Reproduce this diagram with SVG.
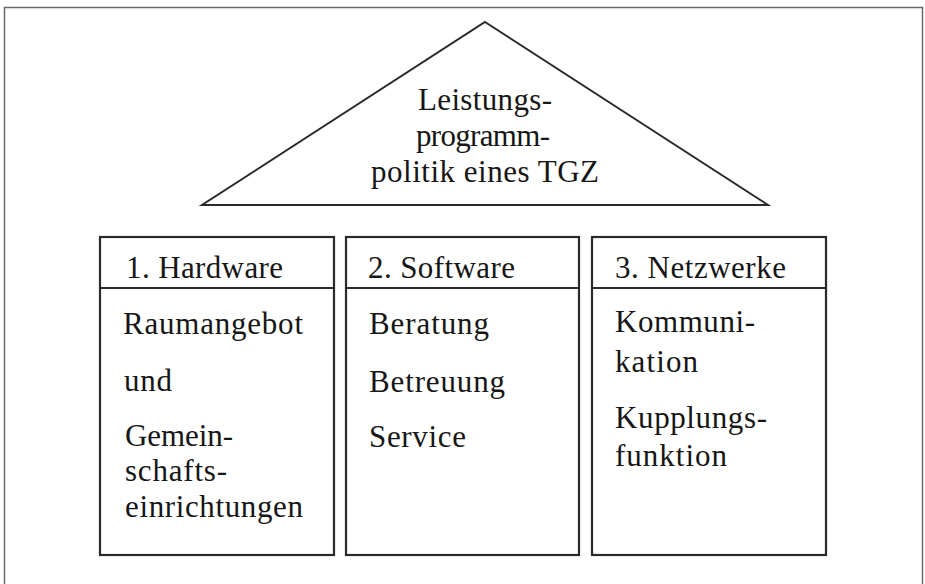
<svg xmlns="http://www.w3.org/2000/svg" width="925" height="584" viewBox="0 0 925 584">
<style>
.frame{fill:none;stroke:#6a6a6a;stroke-width:1.5}
.roof{fill:#fff;stroke:#2a2a2a;stroke-width:2}
.box{fill:#fff;stroke:#2a2a2a;stroke-width:2.2}
.div{stroke:#2a2a2a;stroke-width:2}
text{font-family:'Liberation Serif','DejaVu Serif',serif;font-size:31px;fill:#161616}
.c{text-anchor:middle}
</style>
<rect x="0" y="0" width="925" height="584" fill="#fff"/>
<path class="frame" d="M4.5,600 V7.5 H922.5 V600"/>
<g id="roof">
<polygon class="roof" points="485,22 768,205 202,205"/>
<text class="c" x="485" y="110" textLength="134" lengthAdjust="spacing">Leistungs-</text>
<text class="c" x="483" y="146" textLength="134" lengthAdjust="spacing">programm-</text>
<text class="c" x="485" y="182" textLength="228" lengthAdjust="spacing">politik eines TGZ</text>
</g>
<g id="hardware">
<rect class="box" x="100" y="237" width="234" height="318"/>
<line class="div" x1="100" y1="288" x2="334" y2="288"/>
<text x="126" y="278" textLength="157" lengthAdjust="spacing">1. Hardware</text>
<text x="123" y="334" textLength="180" lengthAdjust="spacing">Raumangebot</text>
<text x="124" y="391" textLength="48" lengthAdjust="spacing">und</text>
<text x="125" y="446" textLength="108" lengthAdjust="spacing">Gemein-</text>
<text x="125" y="481" textLength="102" lengthAdjust="spacing">schafts-</text>
<text x="125" y="517" textLength="178" lengthAdjust="spacing">einrichtungen</text>
</g>
<g id="software">
<rect class="box" x="346" y="237" width="233" height="318"/>
<line class="div" x1="346" y1="288" x2="579" y2="288"/>
<text x="368" y="278" textLength="147" lengthAdjust="spacing">2. Software</text>
<text x="369" y="334" textLength="120" lengthAdjust="spacing">Beratung</text>
<text x="369" y="392" textLength="136" lengthAdjust="spacing">Betreuung</text>
<text x="369" y="447" textLength="97" lengthAdjust="spacing">Service</text>
</g>
<g id="netzwerke">
<rect class="box" x="592" y="237" width="234" height="318"/>
<line class="div" x1="592" y1="288" x2="826" y2="288"/>
<text x="615" y="278" textLength="171" lengthAdjust="spacing">3. Netzwerke</text>
<text x="615" y="332" textLength="140" lengthAdjust="spacing">Kommuni-</text>
<text x="615" y="372" textLength="83" lengthAdjust="spacing">kation</text>
<text x="615" y="428" textLength="152" lengthAdjust="spacing">Kupplungs-</text>
<text x="615" y="466" textLength="112" lengthAdjust="spacing">funktion</text>
</g>
<g id="connectors"></g>
</svg>
